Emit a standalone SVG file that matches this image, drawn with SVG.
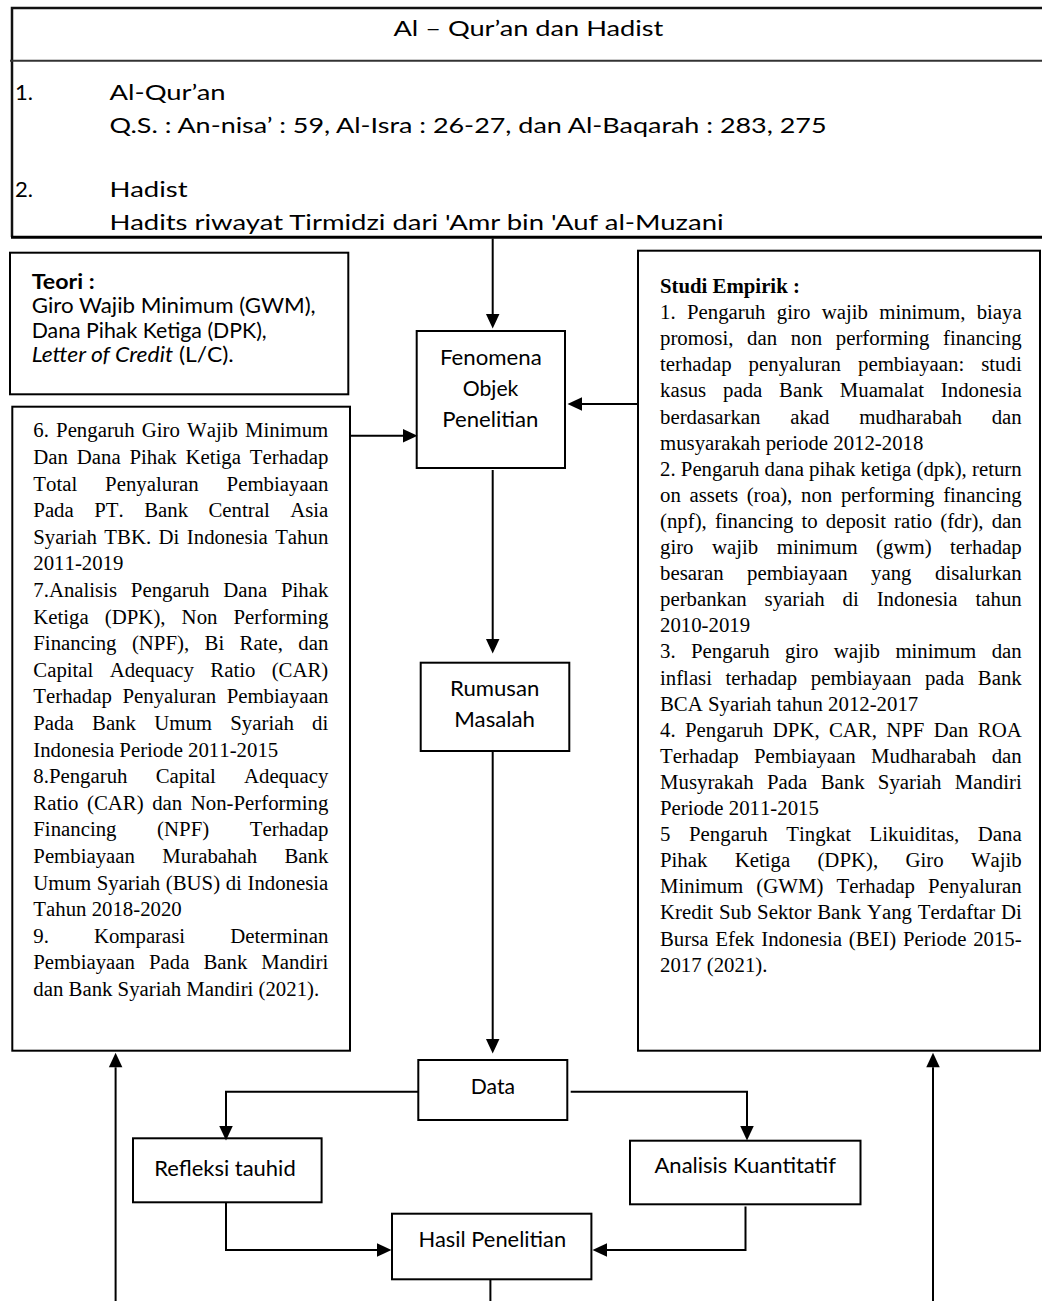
<svg xmlns="http://www.w3.org/2000/svg" width="1042" height="1301" viewBox="0 0 1042 1301">
<style>
.box{fill:#fff;stroke:#000;stroke-width:2}
.conn{fill:none;stroke:#000;stroke-width:2}
.c{font-family:Lato,"Liberation Sans",sans-serif;font-size:21px;fill:#000}
.t{font-family:"Liberation Serif","Times New Roman",serif;font-size:20.8px;fill:#000;font-kerning:none}
.b{font-weight:bold}
</style>
<defs>
<marker id="ah" markerUnits="userSpaceOnUse" markerWidth="15" markerHeight="14" refX="0" refY="6.75" orient="auto" overflow="visible">
<path d="M0,0 L14.5,6.75 L0,13.5 z" fill="#000"/>
</marker>
</defs>
<rect width="1042" height="1301" fill="#fff"/>

<g id="sumber">
<path d="M1050,8 H12 V237" fill="none" stroke="#111" stroke-width="2.5"/>
<line x1="11" y1="237.3" x2="1042" y2="237.3" stroke="#000" stroke-width="3"/>
<line x1="10" y1="60.7" x2="1042" y2="60.7" stroke="#333" stroke-width="2"/>
<text class="c" x="393.4" y="36" textLength="270" lengthAdjust="spacingAndGlyphs">Al – Qur’an dan Hadist</text>
<text class="c" x="15" y="100" textLength="18" lengthAdjust="spacingAndGlyphs">1.</text>
<text class="c" x="109.6" y="100" textLength="116" lengthAdjust="spacingAndGlyphs">Al-Qur’an</text>
<text class="c" x="109.6" y="133" textLength="717" lengthAdjust="spacingAndGlyphs">Q.S. : An-nisa’ : 59, Al-Isra : 26-27, dan Al-Baqarah : 283, 275</text>
<text class="c" x="15" y="197" textLength="18" lengthAdjust="spacingAndGlyphs">2.</text>
<text class="c" x="109.6" y="197" textLength="78" lengthAdjust="spacingAndGlyphs">Hadist</text>
<text class="c" x="109.6" y="230" textLength="614" lengthAdjust="spacingAndGlyphs">Hadits riwayat Tirmidzi dari 'Amr bin 'Auf al-Muzani</text>
</g>

<g id="teori">
<rect class="box" x="10" y="252.7" width="338.3" height="141.6"/>
<text class="c b" x="31.7" y="289" textLength="63" lengthAdjust="spacingAndGlyphs">Teori :</text>
<text class="c" x="31.7" y="313" textLength="284" lengthAdjust="spacingAndGlyphs">Giro Wajib Minimum (GWM),</text>
<text class="c" x="31.7" y="338" textLength="235" lengthAdjust="spacingAndGlyphs">Dana Pihak Ketiga (DPK),</text>
<text class="c" x="31.7" y="362" textLength="202" lengthAdjust="spacingAndGlyphs"><tspan font-style="italic">Letter of Credit</tspan> (L/C).</text>
</g>

<g id="penelitian-terdahulu">
<rect class="box" x="12.3" y="406.7" width="337.7" height="644"/>
<text class="t" x="33.3" y="437.3" word-spacing="1.97" textLength="295" lengthAdjust="spacing">6. Pengaruh Giro Wajib Minimum</text>
<text class="t" x="33.3" y="463.9" word-spacing="3.57" textLength="295" lengthAdjust="spacing">Dan Dana Pihak Ketiga Terhadap</text>
<text class="t" x="33.3" y="490.5" word-spacing="22.7" textLength="295" lengthAdjust="spacing">Total Penyaluran Pembiayaan</text>
<text class="t" x="33.3" y="517.1" word-spacing="15.25" textLength="295" lengthAdjust="spacing">Pada PT. Bank Central Asia</text>
<text class="t" x="33.3" y="543.7" word-spacing="2.25" textLength="295" lengthAdjust="spacing">Syariah TBK. Di Indonesia Tahun</text>
<text class="t" x="33.3" y="570.3">2011-2019</text>
<text class="t" x="33.3" y="596.9" word-spacing="8.6" textLength="295" lengthAdjust="spacing">7.Analisis Pengaruh Dana Pihak</text>
<text class="t" x="33.3" y="623.5" word-spacing="10.9" textLength="295" lengthAdjust="spacing">Ketiga (DPK), Non Performing</text>
<text class="t" x="33.3" y="650.1" word-spacing="10.2" textLength="295" lengthAdjust="spacing">Financing (NPF), Bi Rate, dan</text>
<text class="t" x="33.3" y="676.7" word-spacing="11.1" textLength="295" lengthAdjust="spacing">Capital Adequacy Ratio (CAR)</text>
<text class="t" x="33.3" y="703.3" word-spacing="5.4" textLength="295" lengthAdjust="spacing">Terhadap Penyaluran Pembiayaan</text>
<text class="t" x="33.3" y="729.9" word-spacing="13.1" textLength="295" lengthAdjust="spacing">Pada Bank Umum Syariah di</text>
<text class="t" x="33.3" y="756.5">Indonesia Periode 2011-2015</text>
<text class="t" x="33.3" y="783.1" word-spacing="23" textLength="295" lengthAdjust="spacing">8.Pengaruh Capital Adequacy</text>
<text class="t" x="33.3" y="809.7" word-spacing="3.4" textLength="295" lengthAdjust="spacing">Ratio (CAR) dan Non-Performing</text>
<text class="t" x="33.3" y="836.3" word-spacing="35.4" textLength="295" lengthAdjust="spacing">Financing (NPF) Terhadap</text>
<text class="t" x="33.3" y="862.9" word-spacing="22.1" textLength="295" lengthAdjust="spacing">Pembiayaan Murabahah Bank</text>
<text class="t" x="33.3" y="889.5" word-spacing="0.4" textLength="295" lengthAdjust="spacing">Umum Syariah (BUS) di Indonesia</text>
<text class="t" x="33.3" y="916.1">Tahun 2018-2020</text>
<text class="t" x="33.3" y="942.7" word-spacing="39.8" textLength="295" lengthAdjust="spacing">9. Komparasi Determinan</text>
<text class="t" x="33.3" y="969.3" word-spacing="8.8" textLength="295" lengthAdjust="spacing">Pembiayaan Pada Bank Mandiri</text>
<text class="t" x="33.3" y="995.9">dan Bank Syariah Mandiri (2021).</text>
</g>

<g id="studi-empirik">
<rect class="box" x="638" y="250.7" width="402" height="800"/>
<text class="t b" x="660" y="293">Studi Empirik :</text>
<text class="t" x="660" y="319.1" word-spacing="6.12" textLength="361.7" lengthAdjust="spacing">1. Pengaruh giro wajib minimum, biaya</text>
<text class="t" x="660" y="345.2" word-spacing="8.5" textLength="361.7" lengthAdjust="spacing">promosi, dan non performing financing</text>
<text class="t" x="660" y="371.3" word-spacing="11.8" textLength="361.7" lengthAdjust="spacing">terhadap penyaluran pembiayaan: studi</text>
<text class="t" x="660" y="397.4" word-spacing="11.6" textLength="361.7" lengthAdjust="spacing">kasus pada Bank Muamalat Indonesia</text>
<text class="t" x="660" y="423.5" word-spacing="24.5" textLength="361.7" lengthAdjust="spacing">berdasarkan akad mudharabah dan</text>
<text class="t" x="660" y="449.6">musyarakah periode 2012-2018</text>
<text class="t" x="660" y="475.7" textLength="361.7" lengthAdjust="spacing">2. Pengaruh dana pihak ketiga (dpk), return</text>
<text class="t" x="660" y="501.8" word-spacing="3.5" textLength="361.7" lengthAdjust="spacing">on assets (roa), non performing financing</text>
<text class="t" x="660" y="527.9" word-spacing="2.9" textLength="361.7" lengthAdjust="spacing">(npf), financing to deposit ratio (fdr), dan</text>
<text class="t" x="660" y="554" word-spacing="13.3" textLength="361.7" lengthAdjust="spacing">giro wajib minimum (gwm) terhadap</text>
<text class="t" x="660" y="580.1" word-spacing="18.3" textLength="361.7" lengthAdjust="spacing">besaran pembiayaan yang disalurkan</text>
<text class="t" x="660" y="606.2" word-spacing="12.7" textLength="361.7" lengthAdjust="spacing">perbankan syariah di Indonesia tahun</text>
<text class="t" x="660" y="632.3">2010-2019</text>
<text class="t" x="660" y="658.4" word-spacing="10.2" textLength="361.7" lengthAdjust="spacing">3. Pengaruh giro wajib minimum dan</text>
<text class="t" x="660" y="684.5" word-spacing="8.4" textLength="361.7" lengthAdjust="spacing">inflasi terhadap pembiayaan pada Bank</text>
<text class="t" x="660" y="710.6">BCA Syariah tahun 2012-2017</text>
<text class="t" x="660" y="736.7" word-spacing="4.15" textLength="361.7" lengthAdjust="spacing">4. Pengaruh DPK, CAR, NPF Dan ROA</text>
<text class="t" x="660" y="762.8" word-spacing="10.2" textLength="361.7" lengthAdjust="spacing">Terhadap Pembiayaan Mudharabah dan</text>
<text class="t" x="660" y="788.9" word-spacing="8.1" textLength="361.7" lengthAdjust="spacing">Musyrakah Pada Bank Syariah Mandiri</text>
<text class="t" x="660" y="815">Periode 2011-2015</text>
<text class="t" x="660" y="841.1" word-spacing="13.4" textLength="361.7" lengthAdjust="spacing">5 Pengaruh Tingkat Likuiditas, Dana</text>
<text class="t" x="660" y="867.2" word-spacing="22.1" textLength="361.7" lengthAdjust="spacing">Pihak Ketiga (DPK), Giro Wajib</text>
<text class="t" x="660" y="893.3" word-spacing="7.9" textLength="361.7" lengthAdjust="spacing">Minimum (GWM) Terhadap Penyaluran</text>
<text class="t" x="660" y="919.4" word-spacing="0.6" textLength="361.7" lengthAdjust="spacing">Kredit Sub Sektor Bank Yang Terdaftar Di</text>
<text class="t" x="660" y="945.5" word-spacing="1.5" textLength="361.7" lengthAdjust="spacing">Bursa Efek Indonesia (BEI) Periode 2015-</text>
<text class="t" x="660" y="971.6">2017 (2021).</text>
</g>

<g id="fenomena">
<rect class="box" x="416.7" y="331" width="148.3" height="137"/>
<text class="c" x="440" y="365" textLength="101.7" lengthAdjust="spacingAndGlyphs">Fenomena</text>
<text class="c" x="462.7" y="395.7" textLength="55.7" lengthAdjust="spacingAndGlyphs">Objek</text>
<text class="c" x="442.3" y="427.3" textLength="96" lengthAdjust="spacingAndGlyphs">Penelitian</text>
</g>

<g id="rumusan">
<rect class="box" x="420.7" y="662.7" width="148.6" height="88.3"/>
<text class="c" x="450" y="696" textLength="89.3" lengthAdjust="spacingAndGlyphs">Rumusan</text>
<text class="c" x="454.3" y="727.3" textLength="80.7" lengthAdjust="spacingAndGlyphs">Masalah</text>
</g>

<g id="data">
<rect class="box" x="418.3" y="1060" width="149" height="60"/>
<text class="c" x="470.7" y="1094" textLength="44.3" lengthAdjust="spacingAndGlyphs">Data</text>
</g>

<g id="refleksi">
<rect class="box" x="133" y="1138.3" width="188.6" height="64"/>
<text class="c" x="154.2" y="1176" textLength="141.5" lengthAdjust="spacingAndGlyphs">Refleksi tauhid</text>
</g>

<g id="analisis">
<rect class="box" x="630" y="1140.7" width="230.5" height="63.6"/>
<text class="c" x="654.5" y="1173.3" textLength="181.4" lengthAdjust="spacingAndGlyphs">Analisis Kuantitatif</text>
</g>

<g id="hasil">
<rect class="box" x="392" y="1213.7" width="199.4" height="65.6"/>
<text class="c" x="418.6" y="1246.7" textLength="147.5" lengthAdjust="spacingAndGlyphs">Hasil Penelitian</text>
</g>

<g id="connectors">
<path class="conn" d="M492.7,238.5 V314" marker-end="url(#ah)"/>
<path class="conn" d="M350,435.7 H403" marker-end="url(#ah)"/>
<path class="conn" d="M638,404 H582" marker-end="url(#ah)"/>
<path class="conn" d="M492.7,470 V639" marker-end="url(#ah)"/>
<path class="conn" d="M492.7,751 V1039" marker-end="url(#ah)"/>
<path class="conn" d="M418.3,1091.7 H226 V1126" marker-end="url(#ah)"/>
<path class="conn" d="M570.7,1091.7 H747 V1126" marker-end="url(#ah)"/>
<path class="conn" d="M226,1202.3 V1250 H377" marker-end="url(#ah)"/>
<path class="conn" d="M745.5,1206.5 V1250 H607" marker-end="url(#ah)"/>
<path class="conn" d="M490.4,1279.3 V1301"/>
<path class="conn" d="M115.6,1301 V1067.3" marker-end="url(#ah)"/>
<path class="conn" d="M933,1301 V1067.3" marker-end="url(#ah)"/>
</g>
</svg>
